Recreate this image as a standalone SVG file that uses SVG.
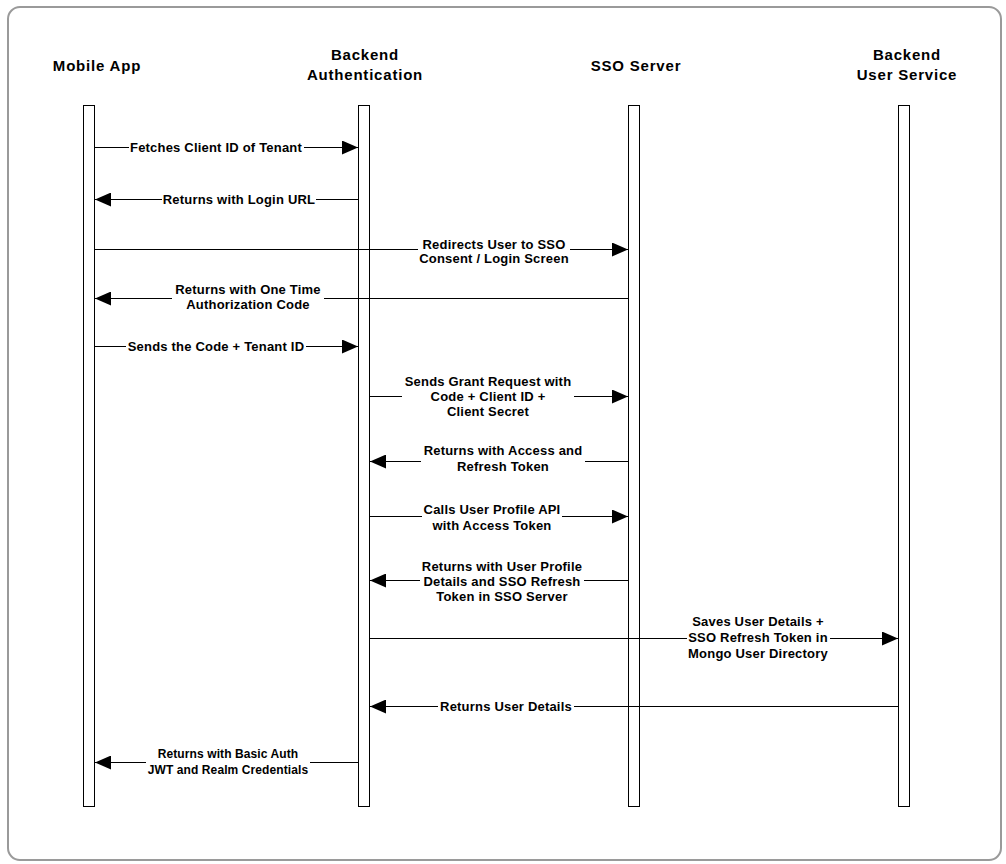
<svg xmlns="http://www.w3.org/2000/svg" width="1006" height="864" viewBox="0 0 1006 864">
<style>
.hdr{font-family:"Liberation Sans",Arial,sans-serif;font-weight:bold;font-size:15px;letter-spacing:0.8px;fill:#000;text-anchor:middle}
.lbl{font-family:"Liberation Sans",Arial,sans-serif;font-weight:bold;font-size:13px;letter-spacing:0.2px;fill:#000;text-anchor:middle}
.sm{font-size:12px;letter-spacing:0.1px}
.life{fill:#fff;stroke:#000;stroke-width:1}
.msg{fill:none;stroke:#000;stroke-width:1;marker-end:url(#ah)}
.bg{fill:#fff}
</style>
<defs>
<marker id="ah" markerUnits="userSpaceOnUse" markerWidth="16" markerHeight="14" refX="16" refY="7" orient="auto">
<path d="M0,0 L16,7 L0,14 Z" fill="#000"/>
</marker>
</defs>
<rect x="0" y="0" width="1006" height="864" fill="#fff"/>
<rect x="8" y="7" width="993" height="853" rx="12" ry="12" fill="#fff" stroke="#9a9a9a" stroke-width="2"/>

<g id="mobile-app">
<text class="hdr" x="97" y="71">Mobile App</text>
<rect class="life" x="83.5" y="105.5" width="11" height="701"/>
</g>
<g id="backend-auth">
<text class="hdr" x="365" y="60">Backend</text>
<text class="hdr" x="365" y="80">Authentication</text>
<rect class="life" x="358.5" y="105.5" width="11" height="701"/>
</g>
<g id="sso-server">
<text class="hdr" x="636" y="71">SSO Server</text>
<rect class="life" x="628.5" y="105.5" width="11" height="701"/>
</g>
<g id="user-service">
<text class="hdr" x="907" y="60">Backend</text>
<text class="hdr" x="907" y="80">User Service</text>
<rect class="life" x="898.5" y="105.5" width="11" height="701"/>
</g>

<g id="connectors">
<line class="msg" x1="95" y1="147.5" x2="358" y2="147.5"/>
<rect class="bg" x="129" y="140" width="175" height="15"/>
<text class="lbl" x="216" y="152">Fetches Client ID of Tenant</text>

<line class="msg" x1="358" y1="199.5" x2="95" y2="199.5"/>
<rect class="bg" x="162" y="192" width="154" height="15"/>
<text class="lbl" x="239" y="204">Returns with Login URL</text>

<line class="msg" x1="95" y1="249.5" x2="628" y2="249.5"/>
<rect class="bg" x="418" y="236" width="152" height="30"/>
<text class="lbl" x="494" y="249">Redirects User to SSO</text>
<text class="lbl" x="494" y="263">Consent / Login Screen</text>

<line class="msg" x1="628" y1="298.5" x2="95" y2="298.5"/>
<rect class="bg" x="172" y="283" width="152" height="30"/>
<text class="lbl" x="248" y="294">Returns with One Time</text>
<text class="lbl" x="248" y="309">Authorization Code</text>

<line class="msg" x1="95" y1="346.5" x2="358" y2="346.5"/>
<rect class="bg" x="126" y="339" width="180" height="15"/>
<text class="lbl" x="216" y="351">Sends the Code + Tenant ID</text>

<line class="msg" x1="370" y1="396.5" x2="628" y2="396.5"/>
<rect class="bg" x="402" y="374" width="172" height="46"/>
<text class="lbl" x="488" y="386">Sends Grant Request with</text>
<text class="lbl" x="488" y="401">Code + Client ID +</text>
<text class="lbl" x="488" y="416">Client Secret</text>

<line class="msg" x1="628" y1="461.5" x2="370" y2="461.5"/>
<rect class="bg" x="421" y="444" width="164" height="30"/>
<text class="lbl" x="503" y="455">Returns with Access and</text>
<text class="lbl" x="503" y="471">Refresh Token</text>

<line class="msg" x1="370" y1="516.5" x2="628" y2="516.5"/>
<rect class="bg" x="422" y="503" width="140" height="30"/>
<text class="lbl" x="492" y="514">Calls User Profile API</text>
<text class="lbl" x="492" y="530">with Access Token</text>

<line class="msg" x1="628" y1="580.5" x2="370" y2="580.5"/>
<rect class="bg" x="420" y="560" width="164" height="44"/>
<text class="lbl" x="502" y="571">Returns with User Profile</text>
<text class="lbl" x="502" y="586">Details and SSO Refresh</text>
<text class="lbl" x="502" y="601">Token in SSO Server</text>

<line class="msg" x1="370" y1="638.5" x2="898" y2="638.5"/>
<rect class="bg" x="687" y="615" width="143" height="46"/>
<text class="lbl" x="758" y="626">Saves User Details +</text>
<text class="lbl" x="758" y="642">SSO Refresh Token in</text>
<text class="lbl" x="758" y="658">Mongo User Directory</text>

<line class="msg" x1="898" y1="706.5" x2="370" y2="706.5"/>
<rect class="bg" x="438" y="699" width="136" height="15"/>
<text class="lbl" x="506" y="711">Returns User Details</text>

<line class="msg" x1="358" y1="762.5" x2="95" y2="762.5"/>
<rect class="bg" x="146" y="747" width="164" height="30"/>
<text class="lbl sm" x="228" y="758">Returns with Basic Auth</text>
<text class="lbl sm" x="228" y="774">JWT and Realm Credentials</text>
</g>
</svg>
